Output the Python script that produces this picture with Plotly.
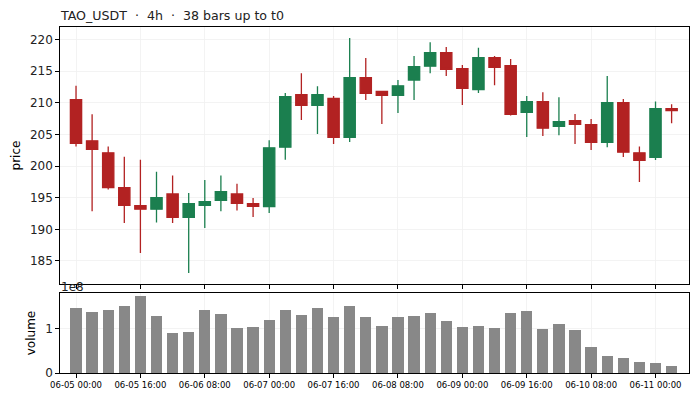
import pandas as pd
import plotly.graph_objects as go
from plotly.subplots import make_subplots

title_text = "TAO_USDT  ·  4h  ·  38 bars up to t0"
start_time = "2024-06-05 00:00"
n_bars = 38

open_ = [210.5, 204.0, 202.1, 196.6, 193.75, 193.2, 195.6, 191.9, 193.8, 194.6,
         195.6, 194.05, 193.6, 203.0, 211.3, 209.6, 210.7, 204.55, 214.0, 211.8,
         211.2, 213.6, 215.8, 217.95, 215.4, 212.1, 217.15, 215.9, 208.5, 210.2,
         206.3, 207.2, 206.55, 203.75, 210.05, 202.1, 201.4, 209.1]
high = [212.7, 208.2, 203.1, 201.5, 201.0, 199.1, 198.5, 195.75, 197.8, 198.5,
        197.2, 194.95, 204.1, 211.55, 214.7, 212.65, 211.1, 220.25, 217.1, 211.8,
        213.6, 217.4, 219.6, 218.85, 216.0, 218.7, 217.4, 216.95, 211.1, 211.7,
        210.9, 208.25, 207.45, 214.25, 210.6, 203.1, 210.2, 209.8]
low = [203.1, 192.85, 196.3, 191.0, 186.25, 191.1, 191.0, 183.1, 190.2, 192.85,
       193.0, 191.95, 192.6, 201.0, 207.3, 205.1, 203.5, 203.8, 210.45, 206.65,
       208.4, 210.45, 214.7, 214.25, 209.65, 211.55, 212.8, 208.0, 204.6, 204.75,
       204.9, 203.5, 202.55, 203.0, 201.45, 197.5, 200.95, 206.8]
close = [203.6, 202.65, 196.6, 193.8, 193.2, 195.0, 191.9, 194.05, 194.4, 195.95,
         194.1, 193.65, 202.9, 211.0, 209.6, 211.3, 204.55, 214.0, 211.5, 211.2,
         212.7, 215.75, 217.95, 215.3, 212.3, 217.15, 215.6, 208.2, 210.2, 206.0,
         207.05, 206.6, 203.75, 210.05, 202.2, 200.9, 209.1, 208.8]
volume = [1.485e8, 1.394e8, 1.44e8, 1.53e8, 1.758e8, 1.303e8, 0.917e8, 0.939e8, 1.44e8, 1.348e8,
          1.03e8, 1.053e8, 1.212e8, 1.44e8, 1.326e8, 1.485e8, 1.28e8, 1.53e8, 1.28e8, 1.076e8,
          1.28e8, 1.303e8, 1.371e8, 1.189e8, 1.053e8, 1.076e8, 1.03e8, 1.371e8, 1.417e8, 1.008e8,
          1.121e8, 0.985e8, 0.598e8, 0.394e8, 0.348e8, 0.258e8, 0.235e8, 0.167e8]
tick_times = ["2024-06-05 00:00", "2024-06-05 16:00", "2024-06-06 08:00", "2024-06-07 00:00",
              "2024-06-07 16:00", "2024-06-08 08:00", "2024-06-09 00:00", "2024-06-09 16:00",
              "2024-06-10 08:00", "2024-06-11 00:00"]

times = pd.date_range(start_time, periods=n_bars, freq="4h")
step = pd.Timedelta(hours=4)

RED = "#b22222"
GREEN = "#1b7f4f"
FONT = "DejaVu Sans"

fig = make_subplots(rows=2, cols=1, shared_xaxes=True, vertical_spacing=0.0)

fig.add_trace(go.Candlestick(
    x=times, open=open_, high=high, low=low, close=close,
    increasing=dict(line=dict(color=GREEN, width=1.3), fillcolor=GREEN),
    decreasing=dict(line=dict(color=RED, width=1.3), fillcolor=RED),
    whiskerwidth=0, showlegend=False, hoverinfo="skip"), row=1, col=1)

fig.add_trace(go.Bar(
    x=times, y=volume, marker=dict(color="#888888", line=dict(width=0)),
    width=0.7 * step.total_seconds() * 1000, showlegend=False), row=2, col=1)

x_range = [times[0] - 0.995 * step, times[-1] + 1.08 * step]

axis_common = dict(
    showline=True, linecolor="black", linewidth=1.2, mirror=True,
    ticks="outside", ticklen=3.5, tickwidth=1, tickcolor="black",
    showgrid=True, gridcolor="#f0f0f0", gridwidth=0.8, zeroline=False,
    automargin=False,
)

fig.update_xaxes(**axis_common, type="date", range=x_range,
                 tickvals=list(pd.to_datetime(tick_times)), tickformat="%m-%d %H:%M",
                 rangeslider=dict(visible=False),
                 tickfont=dict(family=FONT, size=8.5, color="black"))
fig.update_xaxes(showticklabels=False, row=1, col=1)
fig.update_xaxes(showticklabels=True, row=2, col=1)

fig.update_yaxes(**axis_common, tickfont=dict(family=FONT, size=12, color="#222"))
fig.update_yaxes(range=[181.36, 222.0], tickvals=[185, 190, 195, 200, 205, 210, 215, 220],
                 title=dict(text="price", font=dict(family=FONT, size=12, color="black"), standoff=6),
                 row=1, col=1)
fig.update_yaxes(range=[0, 1.818e8], tickvals=[0, 1e8], ticktext=["0", "1"],
                 title=dict(text="volume", font=dict(family=FONT, size=12, color="black"), standoff=7),
                 row=2, col=1)

fig.update_layout(
    width=696, height=400,
    margin=dict(l=60, r=7, t=27, b=27, autoexpand=False),
    paper_bgcolor="white", plot_bgcolor="white",
    bargap=0, boxgap=0.3, boxgroupgap=0,
    hovermode=False,
    yaxis=dict(domain=[0.2572, 1.0]),
    yaxis2=dict(domain=[0.0, 0.2312]),
    font=dict(family=FONT, size=12, color="black"),
    annotations=[
        dict(text=title_text, xref="paper", yref="paper", x=0.0, y=1.0, xanchor="left",
             yanchor="bottom", yshift=2, xshift=-2, showarrow=False,
             font=dict(family=FONT, size=12.6, color="#222")),
        dict(text="1e8", xref="paper", yref="paper", x=0.0, y=0.2312, xanchor="left",
             yanchor="bottom", yshift=-3, xshift=-1, showarrow=False,
             font=dict(family=FONT, size=12, color="#222")),
    ],
)

fig.write_html("out.html", config={"displayModeBar": False, "staticPlot": True},
               post_script="document.body.style.margin='0';document.body.style.overflow='hidden';")
